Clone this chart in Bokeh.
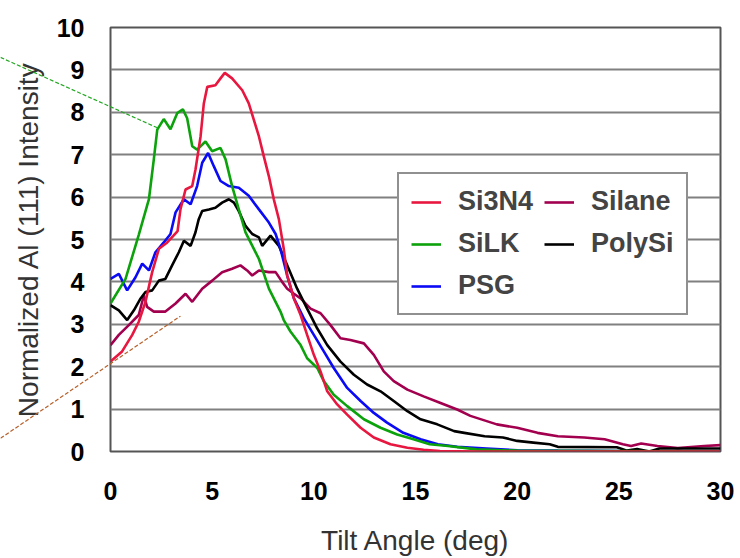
from bokeh.plotting import figure
from bokeh.layouts import column
from bokeh.models import Range1d, Legend, LegendItem, FixedTicker
from bokeh.embed import file_html
from bokeh.resources import INLINE

# ---------------- data ----------------
si3n4_x = [0, 0.57, 1.07, 1.39, 1.72, 2.05, 2.38, 2.79, 3.11, 3.3, 3.44, 3.69, 4.02, 4.18, 4.43, 4.59, 4.76,
           5.16, 5.41, 5.62, 5.98, 6.48, 6.8, 7.05, 7.3, 7.54, 7.79, 8.03, 8.28, 8.52, 8.69, 9.02, 9.35, 9.67,
           10.0, 10.33, 10.66, 11.15, 11.64, 12.3, 12.95, 13.77, 14.6, 15.4, 16.2, 18, 20, 25, 30]
si3n4_y = [2.12, 2.36, 2.75, 3.06, 3.53, 4.23, 4.78, 4.93, 5.1, 5.2, 5.71, 6.18, 6.26, 6.65, 7.43, 8.21, 8.6,
           8.64, 8.8, 8.93, 8.8, 8.52, 8.21, 7.82, 7.43, 6.96, 6.49, 5.95, 5.48, 4.78, 4.15, 3.61, 3.22, 2.75,
           2.28, 1.89, 1.42, 1.11, 0.87, 0.56, 0.33, 0.17, 0.09, 0.04, 0.01, 0, 0, 0, 0]

silk_x = [0, 0.74, 1.39, 1.89, 2.13, 2.3, 2.62, 2.95, 3.28, 3.56, 3.77, 4.02, 4.26, 4.67, 5.0, 5.41, 5.66,
          5.98, 6.31, 6.64, 7.3, 7.79, 8.36, 8.52, 8.85, 9.35, 9.67, 10.17, 10.49, 10.98, 11.64, 12.46, 13.28,
          14.1, 14.9, 15.7, 16.6, 18, 20, 25, 30]
silk_y = [3.49, 4.07, 5.11, 5.95, 6.89, 7.59, 7.84, 7.6, 7.98, 8.07, 7.86, 7.2, 7.12, 7.31, 7.08, 7.16, 6.89,
          6.26, 5.71, 5.17, 4.54, 3.84, 3.3, 3.1, 2.83, 2.51, 2.2, 1.97, 1.66, 1.34, 1.07, 0.76, 0.56,
          0.4, 0.29, 0.17, 0.13, 0.05, 0.02, 0.01, 0.0]

psg_x = [0, 0.41, 0.82, 1.23, 1.56, 1.89, 2.21, 2.62, 2.95, 3.2, 3.61, 3.94, 4.26, 4.51, 4.8, 5.08, 5.41,
         5.82, 6.31, 6.8, 7.3, 7.79, 8.12, 8.36, 8.69, 9.02, 9.51, 10.0, 10.49, 10.98, 11.64, 12.3, 12.95,
         13.6, 14.4, 15.25, 16.1, 17.05, 18.5, 20, 22, 25, 30]
psg_y = [4.07, 4.19, 3.8, 4.11, 4.43, 4.27, 4.7, 4.93, 5.13, 5.64, 5.95, 5.83, 6.26, 6.81, 7.04, 6.73, 6.38,
         6.26, 6.22, 6.03, 5.71, 5.4, 5.13, 4.78, 4.15, 3.61, 3.14, 2.75, 2.36, 1.97, 1.5, 1.19, 0.91,
         0.68, 0.44, 0.29, 0.17, 0.11, 0.07, 0.03, 0.02, 0.01, 0.0]

polysi_x = [0, 0.41, 0.82, 1.15, 1.48, 1.72, 2.05, 2.38, 2.7, 3.03, 3.36, 3.61, 3.94, 4.18, 4.34, 4.51, 4.84,
            5.16, 5.49, 5.82, 6.07, 6.31, 6.64, 6.97, 7.3, 7.46, 7.87, 8.28, 8.69, 9.18, 9.67, 10.17, 10.66,
            11.31, 11.97, 12.62, 13.28, 13.93, 14.6, 15.25, 16.07, 16.9, 17.4, 18.4, 19.3, 20.0, 20.8, 21.6,
            22.0, 24.9, 25.4, 25.9, 26.5, 27, 30]
polysi_y = [3.45, 3.33, 3.1, 3.33, 3.61, 3.76, 3.8, 4.03, 4.07, 4.39, 4.7, 4.97, 4.85, 5.17, 5.48, 5.67, 5.71,
            5.75, 5.87, 5.95, 5.87, 5.67, 5.32, 5.13, 5.05, 4.85, 5.09, 4.85, 4.39, 3.84, 3.37, 2.9, 2.51,
            2.12, 1.81, 1.58, 1.42, 1.19, 0.95, 0.76, 0.64, 0.48, 0.44, 0.36, 0.33, 0.25, 0.21, 0.17,
            0.11, 0.1, 0.02, 0.06, 0.0, 0.07, 0.07]

silane_x = [0, 0.41, 0.9, 1.39, 1.64, 1.8, 2.13, 2.7, 3.2, 3.69, 4.02, 4.51, 5.0, 5.49, 5.98, 6.39, 6.72, 6.97,
            7.3, 7.79, 8.12, 8.44, 8.69, 9.02, 9.35, 9.84, 10.33, 10.82, 11.31, 11.8, 12.46, 12.95, 13.44,
            13.93, 14.6, 15.4, 16.2, 17.05, 17.7, 19.0, 20.0, 21.0, 22.0, 23.3, 24.3, 25.2, 25.6, 26.1, 26.9,
            27.9, 29.2, 30]
silane_y = [2.51, 2.75, 2.98, 3.22, 3.68, 3.41, 3.3, 3.3, 3.49, 3.72, 3.53, 3.84, 4.03, 4.23, 4.31, 4.39, 4.27,
            4.15, 4.27, 4.23, 4.23, 4.0, 3.84, 3.72, 3.61, 3.37, 3.26, 2.98, 2.67, 2.63, 2.55, 2.28, 1.89,
            1.66, 1.46, 1.3, 1.15, 0.99, 0.84, 0.64, 0.56, 0.44, 0.36, 0.33, 0.29, 0.17, 0.13, 0.19, 0.13,
            0.08, 0.13, 0.15]

x_ticks = [0, 5, 10, 15, 20, 25, 30]
y_ticks = [0, 1, 2, 3, 4, 5, 6, 7, 8, 9, 10]

# leader lines (data units): x pair, y pair
leader_green_x = [-5.41, 2.31]
leader_green_y = [9.30, 7.65]
leader_brown_x = [-5.41, 3.44]
leader_brown_y = [0.38, 3.24]

FONT = "Liberation Sans"
W, H = 740, 558
BL, BR, BT, BB = 110, 20, 27, 104          # borders around the plotting frame
X0, X1, Y0, Y1 = 0, 30, 0, 10

p = figure(width=W, height=H, output_backend="svg", toolbar_location=None,
           x_range=Range1d(X0, X1), y_range=Range1d(Y0, Y1),
           min_border_left=BL, min_border_right=BR, min_border_top=BT, min_border_bottom=BB,
           background_fill_color="white", border_fill_color="white")

p.outline_line_color = "#555555"
p.outline_line_width = 2

p.xgrid.grid_line_color = None
p.ygrid.grid_line_color = "#808080"
p.ygrid.grid_line_width = 2

p.xaxis.ticker = FixedTicker(ticks=x_ticks)
p.yaxis.ticker = FixedTicker(ticks=y_ticks)
for ax in (p.xaxis[0], p.yaxis[0]):
    ax.axis_line_color = None
    ax.major_tick_line_color = None
    ax.minor_tick_line_color = None
    ax.major_label_text_font = FONT
    ax.major_label_text_font_style = "bold"
    ax.major_label_text_font_size = "25px"
    ax.major_label_text_color = "black"
    ax.axis_label_text_font = FONT
    ax.axis_label_text_font_style = "normal"
    ax.axis_label_text_font_size = "28px"
    ax.axis_label_text_color = "#333333"

p.xaxis.axis_label = "Tilt Angle (deg)"
p.yaxis.axis_label = "Normalized Al (111) Intensity"
p.xaxis.major_label_standoff = 24
p.yaxis.major_label_standoff = 20
p.xaxis.axis_label_standoff = 22
p.yaxis.axis_label_standoff = 10

series = [
    ("Si3N4", si3n4_x, si3n4_y, "#E8173F"),
    ("SiLK", silk_x, silk_y, "#0CA20C"),
    ("PSG", psg_x, psg_y, "#0A0AF5"),
    ("Silane", silane_x, silane_y, "#A2004F"),
    ("PolySi", polysi_x, polysi_y, "#000000"),
]
order = ["Silane", "PolySi", "PSG", "SiLK", "Si3N4"]
rends = {}
for name in order:
    for n, xs, ys, c in series:
        if n == name:
            rends[n] = p.line(xs, ys, line_color=c, line_width=2.6)

items = [LegendItem(label=n, renderers=[rends[n]]) for n, _, _, _ in series]
legend = Legend(items=items, location=(287, 136), orientation="vertical", nrows=3,
                label_text_font=FONT, label_text_font_style="bold", label_text_font_size="27px",
                label_standoff=17, glyph_width=30, glyph_height=30, spacing=11, padding=12, margin=0,
                border_line_color="#222222", border_line_width=2, background_fill_color="white",
                background_fill_alpha=1.0, label_height=31)
p.add_layout(legend, "center")

# transparent overlay covering the whole canvas, same data scale, for the leader lines
sx = (W - BL - BR) / (X1 - X0)
sy = (H - BT - BB) / (Y1 - Y0)
ov = figure(width=W, height=H, output_backend="svg", toolbar_location=None,
            x_range=Range1d(X0 - BL / sx, X1 + BR / sx), y_range=Range1d(Y0 - BB / sy, Y1 + BT / sy),
            x_axis_type=None, y_axis_type=None, min_border=0,
            background_fill_alpha=0, border_fill_alpha=0)
ov.outline_line_color = None
ov.grid.visible = False
ov.line(leader_green_x, leader_green_y, line_color="#22A822", line_width=1.2, line_dash="4 2")
ov.line(leader_brown_x, leader_brown_y, line_color="#B8602A", line_width=1.2, line_dash="4 2")
ov.margin = (-H, 0, 0, 0)
for fig in (p, ov):
    try:
        fig.frame_align = False
    except Exception:
        pass

layout = column(p, ov, spacing=0)
open("out.html", "w").write(file_html(layout, INLINE))
